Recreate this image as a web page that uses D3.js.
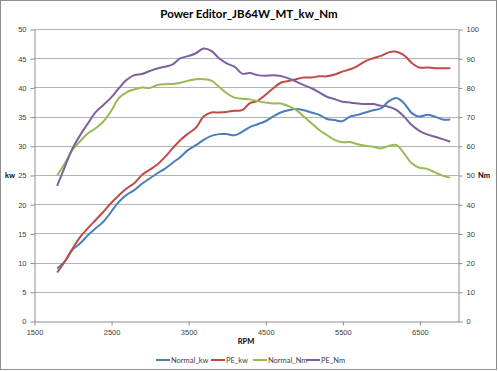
<!DOCTYPE html>
<html><head><meta charset="utf-8">
<script src="https://cdn.jsdelivr.net/npm/d3@7"></script>
<style>
html,body{margin:0;padding:0;background:#fff;}
svg{display:block;font-family:"Lato","Open Sans",sans-serif;}
</style></head>
<body><svg id="c" width="498" height="371"></svg>
<script>
const rpm = [1800,1900,2000,2100,2200,2300,2400,2500,2600,2700,2800,2900,3000,3100,3200,3300,3400,3500,3600,3700,3800,3900,4000,4100,4200,4300,4400,4500,4600,4700,4800,4900,5000,5100,5200,5300,5400,5500,5600,5700,5800,5900,6000,6100,6200,6300,6400,6500,6600,6700,6800,6900];
const normalKw = [9.0,10.2,12.2,13.3,14.7,15.9,17.0,18.7,20.4,21.6,22.4,23.5,24.4,25.3,26.1,27.1,28.1,29.3,30.1,31.0,31.7,32.0,32.0,31.8,32.4,33.2,33.7,34.2,35.0,35.7,36.1,36.3,36.1,35.7,35.3,34.6,34.4,34.2,35.0,35.3,35.7,36.1,36.4,37.6,38.2,37.3,35.6,35.0,35.3,35.0,34.5,34.5];
const peKw = [8.3,10.2,12.4,14.4,15.9,17.3,18.7,20.2,21.5,22.7,23.6,25.0,25.9,26.8,28.1,29.6,31.0,32.1,33.1,35.0,35.7,35.7,35.8,36.0,36.1,37.3,37.7,38.7,39.8,40.8,41.1,41.4,41.7,41.7,41.9,41.9,42.2,42.7,43.1,43.7,44.5,45.0,45.4,46.0,46.1,45.5,44.2,43.4,43.4,43.3,43.3,43.3];
const normalNm = [49.8,54.0,58.6,61.6,64.3,66.0,68.3,71.9,76.3,78.3,79.3,80.0,79.8,80.8,81.1,81.2,81.6,82.3,82.8,82.8,82.3,80.2,78.0,76.5,76.1,75.9,75.3,74.8,74.5,74.5,73.6,72.3,70.0,67.7,65.4,63.7,62.0,61.2,61.3,60.5,60.0,59.7,59.1,59.9,60.3,57.4,54.0,52.5,52.1,50.9,49.8,49.1];
const peNm = [46.3,52.8,59.1,63.7,67.7,71.5,74.0,76.5,79.7,82.5,84.2,84.6,85.6,86.5,87.1,87.9,90.0,90.7,91.7,93.3,92.5,90.0,88.2,87.1,84.7,84.9,84.2,84.0,84.2,83.9,83.1,82.0,80.8,79.7,78.3,76.8,76.0,75.1,74.8,74.5,74.3,74.3,73.7,73.4,72.3,70.0,67.1,65.1,63.9,63.1,62.3,61.4];
const xTicks = [1500,2500,3500,4500,5500,6500];
const yLeftTicks = [0,5,10,15,20,25,30,35,40,45,50];
const yRightTicks = [0,10,20,30,40,50,60,70,80,90,100];
const seriesNames = ["Normal_kw","PE_kw","Normal_Nm","PE_Nm"];
const colors = ["#4A7EBB","#BE4B48","#98B954","#7D60A0"];

const svg = d3.select("#c");
const L=34, R=458, T=29, B=321;
const x = d3.scaleLinear().domain([1500,7000]).range([L,R]);
const yL = d3.scaleLinear().domain([0,50]).range([B,T]);
const yR = d3.scaleLinear().domain([0,100]).range([B,T]);

// outer border
svg.append("rect").attr("x",0.5).attr("y",0.5).attr("width",496).attr("height",369)
  .attr("fill","#fff").attr("stroke","#8e8e8e");

// title
svg.append("text").attr("x",249).attr("y",18).attr("text-anchor","middle")
  .attr("font-size",11.5).attr("font-weight","bold").attr("fill","#000")
  .text("Power Editor_JB64W_MT_kw_Nm");

// gridlines
svg.append("g").selectAll("line").data(yLeftTicks.filter(d=>d>0)).join("line")
  .attr("x1",L).attr("x2",R).attr("y1",d=>Math.round(yL(d))+0.5).attr("y2",d=>Math.round(yL(d))+0.5)
  .attr("stroke","#b3b3b3").attr("stroke-width",1);

function styleAxis(g){
  g.selectAll("path").attr("stroke","#8e8e8e");
  g.selectAll("line").attr("stroke","#8e8e8e");
  g.selectAll("text").attr("fill","#404040").attr("font-size",7.5);
}
const fmt = d3.format("d");
const gL = svg.append("g").attr("transform",`translate(${L+0.5},0.5)`)
  .call(d3.axisLeft(yL).tickValues(yLeftTicks).tickFormat(fmt).tickSize(4).tickSizeOuter(0).tickPadding(4));
styleAxis(gL);
const gR = svg.append("g").attr("transform",`translate(${R+0.5},0.5)`)
  .call(d3.axisRight(yR).tickValues(yRightTicks).tickFormat(fmt).tickSize(4).tickSizeOuter(0).tickPadding(4));
styleAxis(gR);
const gX = svg.append("g").attr("transform",`translate(0.5,${B+0.5})`)
  .call(d3.axisBottom(x).tickValues(xTicks).tickFormat(fmt).tickSize(4).tickSizeOuter(0).tickPadding(4));
styleAxis(gX);

// axis titles
svg.append("text").attr("x",10).attr("y",178).attr("text-anchor","middle")
  .attr("font-size",7.5).attr("font-weight","bold").attr("fill","#000").text("kw");
svg.append("text").attr("x",484).attr("y",178).attr("text-anchor","middle")
  .attr("font-size",7.5).attr("font-weight","bold").attr("fill","#000").text("Nm");
svg.append("text").attr("x",(L+R)/2).attr("y",344).attr("text-anchor","middle")
  .attr("font-size",7.5).attr("font-weight","bold").attr("fill","#000").text("RPM");

// lines
const lineL = d3.line().x((d,i)=>x(rpm[i])).y(d=>yL(d)).curve(d3.curveCatmullRom.alpha(0.5));
const lineR = d3.line().x((d,i)=>x(rpm[i])).y(d=>yR(d)).curve(d3.curveCatmullRom.alpha(0.5));
const series = [
  {vals:normalKw, gen:lineL},
  {vals:peKw, gen:lineL},
  {vals:normalNm, gen:lineR},
  {vals:peNm, gen:lineR}
];
series.forEach((s,i)=>{
  svg.append("path").attr("d",s.gen(s.vals)).attr("fill","none")
    .attr("stroke",colors[i]).attr("stroke-width",2).attr("stroke-linejoin","round");
});

// legend
const legX = [156,211,253,306];
const lg = svg.append("g");
seriesNames.forEach((n,i)=>{
  lg.append("line").attr("x1",legX[i]).attr("x2",legX[i]+14).attr("y1",360).attr("y2",360)
    .attr("stroke",colors[i]).attr("stroke-width",2);
  lg.append("text").attr("x",legX[i]+15).attr("y",362.5).attr("font-size",7.5)
    .attr("fill","#404040").text(n);
});
</script></body></html>
